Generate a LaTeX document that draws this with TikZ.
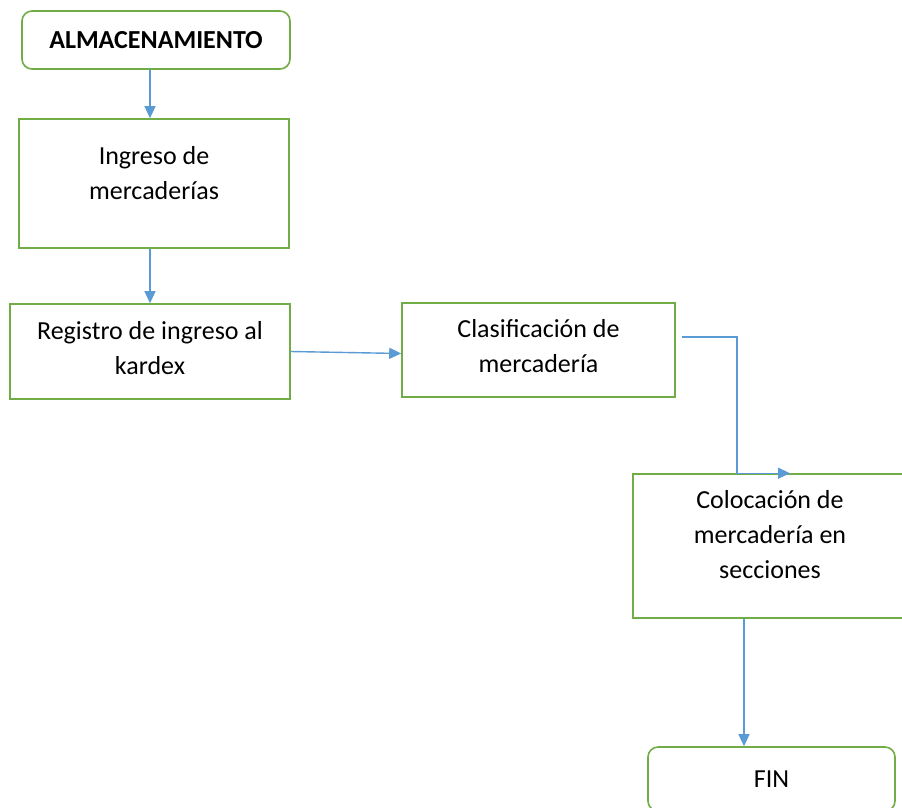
\documentclass[tikz,border=0pt]{standalone}
\usepackage{fontspec}
\setmainfont{Carlito}
\usepackage{tikz}
\usetikzlibrary{arrows.meta}
\usetikzlibrary{shapes,arrows}

\definecolor{boxgreen}{RGB}{112,173,71}
\definecolor{flowblue}{RGB}{91,155,213}

\begin{document}
\begin{tikzpicture}[x=1pt,y=-1pt]
	\tikzstyle{p-box}=[rectangle,draw=boxgreen,line width=1.6pt,align=center,inner sep=0pt,font=\fontsize{26}{35}\selectfont]
	\tikzstyle{t-box}=[p-box,rounded corners=10pt]
	\tikzstyle{flow}=[draw=flowblue,line width=1.4pt,-{Triangle[length=12pt,width=11pt]}]
	\useasboundingbox (0,0) rectangle (902,807);
	% start / end
	\node[t-box,minimum width=268pt,minimum height=58pt,font=\fontsize{26}{35}\selectfont\bfseries] (alm) at (156,40) {ALMACENAMIENTO};
	\node[t-box,minimum width=247pt,minimum height=64pt] (fin) at (771.5,779) {FIN};

	% process steps
	\node[p-box,minimum width=270pt,minimum height=129pt,text depth=22pt] (ingreso) at (154,183.5) {Ingreso de\\mercaderías};
	\node[p-box,minimum width=280pt,minimum height=95pt,text depth=8pt] (registro) at (150,351.5) {Registro de ingreso al\\kardex};
	\node[p-box,minimum width=273pt,minimum height=94pt,text depth=8pt] (clas) at (538.5,350) {Clasificación de\\mercadería};
	\node[p-box,minimum width=274pt,minimum height=144pt,text depth=24pt] (coloc) at (770,546) {Colocación de\\mercadería en\\secciones};

	% connectors
	\coordinate (tap) at ([xshift=6pt,yshift=13pt]clas.east);
	\draw[flow] ([xshift=-6pt]alm.south) -- ([xshift=-6pt]alm.south |- ingreso.north);
	\draw[flow] ([xshift=-4pt]ingreso.south) -- ([xshift=-4pt]ingreso.south |- registro.north);
	\draw[flow] (registro.east) -- ([yshift=-2pt]registro.east -| clas.west);
	\draw[flow] (tap) -| ([xshift=-33pt]coloc.north) -- ([xshift=20pt]coloc.north);
	\draw[flow] ([xshift=-26pt]coloc.south) -- ([xshift=-26pt]coloc.south |- fin.north);
\end{tikzpicture}
\end{document}
